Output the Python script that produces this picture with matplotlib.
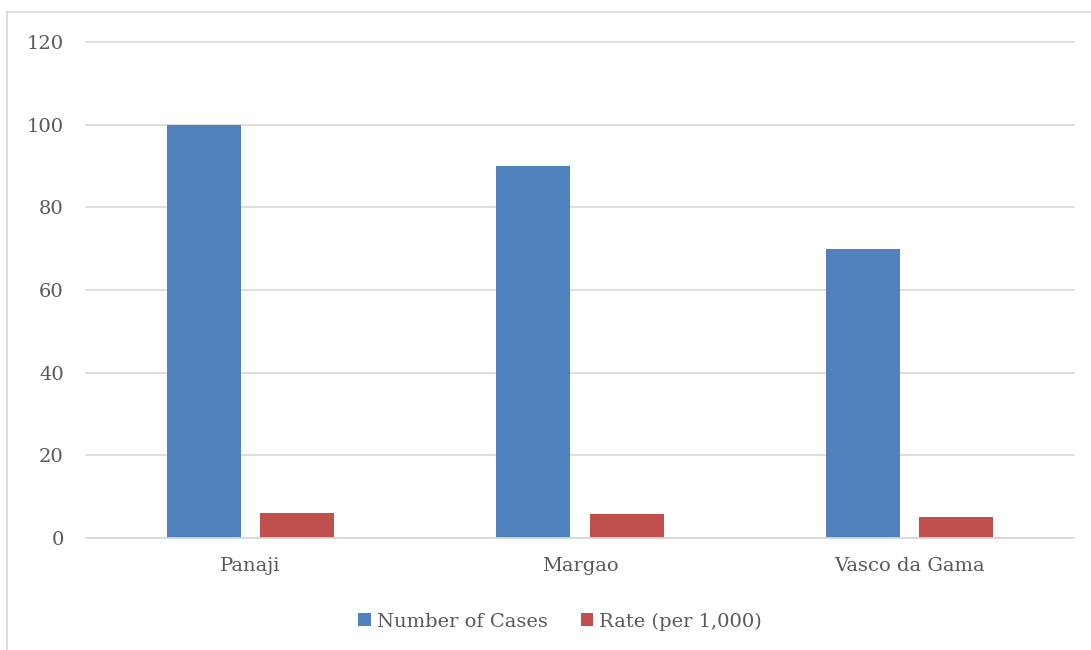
import numpy as np
import matplotlib.pyplot as plt
from matplotlib.lines import Line2D

cities = ["Panaji", "Margao", "Vasco da Gama"]
num_cases = [100, 90, 70]
rate_per_1000 = [6.0, 5.8, 5.0]

BLUE = "#4f81bd"
RED = "#c0504d"
TEXT = "#595959"
GRID = "#d9d9d9"

plt.rcParams["font.family"] = ["DejaVu Serif"]

fig = plt.figure(figsize=(10.91, 6.5), dpi=100)
ax = fig.add_axes([86 / 1091, 112 / 650, 988 / 1091, 496 / 650])

x = np.arange(len(cities))
width = 0.224
offset = 0.1417
ax.bar(x - offset, num_cases, width, color=BLUE, label="Number of Cases", zorder=3)
ax.bar(x + offset, rate_per_1000, width, color=RED, label="Rate (per 1,000)", zorder=3)

ax.set_xlim(-0.5, len(cities) - 0.5)
ax.set_ylim(0, 120)
ax.set_yticks(range(0, 121, 20))
ax.set_xticks(x)
ax.set_xticklabels(cities)

ax.grid(axis="y", color=GRID, linewidth=1.2, zorder=0)
for gl in ax.get_ygridlines():
    gl.set_clip_on(False)
for side in ["top", "right", "left"]:
    ax.spines[side].set_visible(False)
ax.spines["bottom"].set_color(GRID)
ax.spines["bottom"].set_linewidth(1.2)
ax.spines["bottom"].set_zorder(4)
ax.tick_params(axis="both", length=0, colors=TEXT, labelsize=14)
ax.tick_params(axis="y", pad=16)
ax.tick_params(axis="x", pad=14)

leg = ax.legend(loc="upper center", bbox_to_anchor=(0.48, -0.115), ncol=2, frameon=False,
                fontsize=14, handlelength=0.65, handleheight=0.65, handletextpad=0.3,
                columnspacing=1.7, labelcolor=TEXT)

# outer chart border (left and top edges)
fig.add_artist(Line2D([7 / 1091, 7 / 1091], [0, 638 / 650], transform=fig.transFigure,
                      color=GRID, linewidth=1.2))
fig.add_artist(Line2D([7 / 1091, 1], [638 / 650, 638 / 650], transform=fig.transFigure,
                      color=GRID, linewidth=1.2))

fig.savefig("out.png", dpi=100, facecolor="white")
